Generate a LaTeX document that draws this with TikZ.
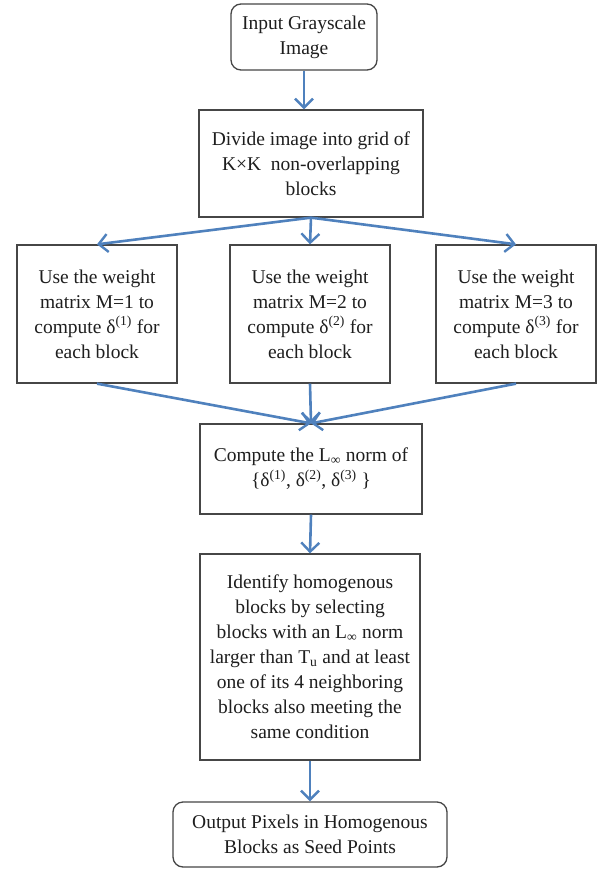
\documentclass[tikz,border=0pt]{standalone}
\usepackage{fontspec}
\setmainfont{Liberation Serif}
\usetikzlibrary{arrows.meta}
\definecolor{arrblue}{RGB}{79,129,189}
\definecolor{edge}{RGB}{70,70,70}
\definecolor{txt}{RGB}{30,30,30}
\tikzset{
  box/.style={draw=edge, line width=1.3pt, fill=white, align=center, inner sep=2pt, text=txt,
    font=\fontsize{19.5}{25}\selectfont},
  rbox/.style={box, rounded corners=10pt},
  flow/.style={draw=arrblue, line width=2.6pt, -{Straight Barb[length=9pt,width=18pt,line width=2.4pt]}}
}
\begin{document}
\begin{tikzpicture}[x=1pt,y=-1pt]
\useasboundingbox (0,0) rectangle (610,869);
\fill[white] (0,0) rectangle (610,869);
\node[rbox, minimum width=146pt, minimum height=66pt] (in) at (304,37) {Input Grayscale\\Image};
\node[box, minimum width=224pt, minimum height=107pt] (div) at (311,163.5) {Divide image into grid of\\K×K\ \ non-overlapping\\blocks};
\node[box, minimum width=160pt, minimum height=138pt] (m1) at (97,314) {Use the weight\\matrix M=1 to\\compute δ\textsuperscript{(1)} for\\each block};
\node[box, minimum width=160pt, minimum height=138pt] (m2) at (310,314) {Use the weight\\matrix M=2 to\\compute δ\textsuperscript{(2)} for\\each block};
\node[box, minimum width=160pt, minimum height=138pt] (m3) at (516,314) {Use the weight\\matrix M=3 to\\compute δ\textsuperscript{(3)} for\\each block};
\node[box, minimum width=222pt, minimum height=90pt] (norm) at (311,469) {Compute the L\textsubscript{∞} norm of\\\{δ\textsuperscript{(1)}, δ\textsuperscript{(2)}, δ\textsuperscript{(3)} \}};
\node[box, minimum width=220pt, minimum height=206pt] (id) at (310,657) {Identify homogenous\\blocks by selecting\\blocks with an L\textsubscript{∞} norm\\larger than T\textsubscript{u} and at least\\one of its 4 neighboring\\blocks also meeting the\\same condition};
\node[rbox, minimum width=274pt, minimum height=65pt] (out) at (310,834.5) {Output Pixels in Homogenous\\Blocks as Seed Points};
\draw[flow] (in.south) -- (in.south |- div.north);
\draw[flow] (div.south) -- (m1.north);
\draw[flow] (div.south) -- (m2.north);
\draw[flow] (div.south) -- (m3.north);
\draw[flow] (m1.south) -- (norm.north);
\draw[flow] (m2.south) -- (norm.north);
\draw[flow] (m3.south) -- (norm.north);
\draw[flow] (norm.south) -- (id.north);
\draw[flow] (id.south) -- (out.north);
\end{tikzpicture}
\end{document}
